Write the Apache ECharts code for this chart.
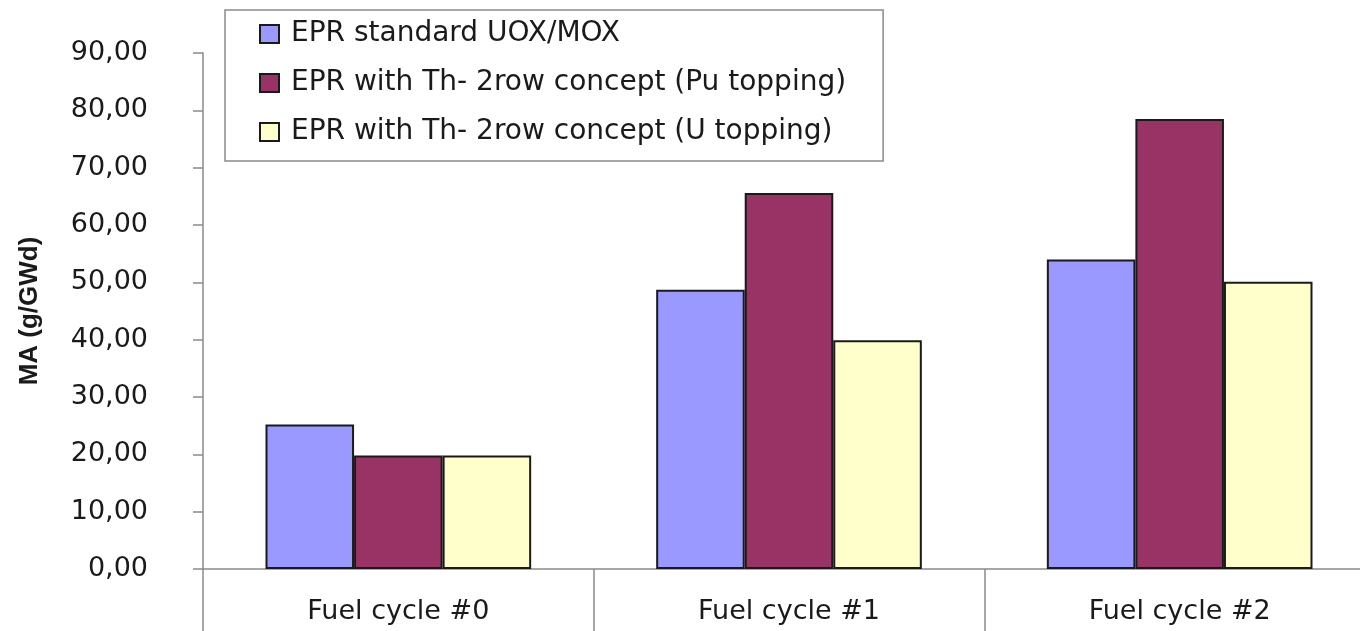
<!DOCTYPE html>
<html>
<head>
<meta charset="utf-8">
<script src="https://cdn.jsdelivr.net/npm/echarts@6/dist/echarts.min.js"></script>
<style>
  html, body { margin: 0; padding: 0; background: #fff; }
  #main { width: 1360px; height: 631px; }
</style>
</head>
<body>
<div id="main"></div>
<script>
// 类别与数据
const categories = ['Fuel cycle #0', 'Fuel cycle #1', 'Fuel cycle #2']
const seriesNames = [
  'EPR standard UOX/MOX',
  'EPR with Th- 2row concept (Pu topping)',
  'EPR with Th- 2row concept (U topping)'
]
const standardData = [25.2, 48.7, 54.0]
const puToppingData = [19.8, 65.6, 78.5]
const uToppingData = [19.8, 39.9, 50.1]
const yTickLabels = ['0,00', '10,00', '20,00', '30,00', '40,00', '50,00', '60,00', '70,00', '80,00', '90,00']

const colors = ['#9999ff', '#993366', '#ffffcc']
const axisGray = '#8a8a8a'
const textColor = '#1a1a1a'
const font = 'DejaVu Sans'

let myChart = echarts.init(document.getElementById('main'))

const barStyle = (c) => ({
  color: c,
  borderColor: '#1a1a1a',
  borderWidth: 2
})

let option = {
  animation: false,
  color: colors,
  legend: {
    orient: 'vertical',
    left: 225,
    top: 10,
    padding: [9, 37, 14, 34],
    itemGap: 19,
    itemWidth: 19,
    itemHeight: 18,
    icon: 'rect',
    borderColor: axisGray,
    borderWidth: 1.5,
    itemStyle: { borderColor: '#1a1a1a', borderWidth: 2 },
    textStyle: {
      fontFamily: font,
      fontSize: 28,
      color: textColor,
      lineHeight: 30,
      padding: [0, 0, 0, 7]
    },
    data: seriesNames
  },
  grid: {
    left: 203,
    width: 1172,
    top: 53,
    bottom: 62,
    outerBoundsMode: 'none' // 允许绘图区超出右边
  },
  xAxis: {
    type: 'category',
    data: categories,
    boundaryGap: true,
    axisLine: { lineStyle: { color: axisGray, width: 1.5 } },
    axisTick: {
      show: true,
      interval: 0,
      length: 70,
      lineStyle: { color: axisGray, width: 1.5 }
    },
    axisLabel: {
      fontFamily: font,
      fontSize: 27,
      color: textColor,
      margin: 29
    }
  },
  yAxis: {
    type: 'value',
    min: 0,
    max: 90,
    interval: 10,
    name: 'MA (g/GWd)',
    nameLocation: 'middle',
    nameGap: 160,
    nameTextStyle: {
      fontFamily: 'Liberation Sans',
      fontWeight: 'bold',
      fontSize: 26,
      color: textColor
    },
    axisLine: { show: true, lineStyle: { color: axisGray, width: 1.5 } },
    axisTick: { show: true, length: 10, lineStyle: { color: axisGray, width: 1.5 } },
    splitLine: { show: false },
    axisLabel: {
      fontFamily: font,
      fontSize: 27,
      color: textColor,
      margin: 55,
      formatter: (v) => yTickLabels[Math.round(v / 10)]
    }
  },
  series: [
    {
      name: seriesNames[0],
      type: 'bar',
      data: standardData,
      barGap: '0%',
      barCategoryGap: '32%',
      itemStyle: barStyle(colors[0])
    },
    {
      name: seriesNames[1],
      type: 'bar',
      data: puToppingData,
      barGap: '0%',
      barCategoryGap: '32%',
      itemStyle: barStyle(colors[1])
    },
    {
      name: seriesNames[2],
      type: 'bar',
      data: uToppingData,
      barGap: '0%',
      barCategoryGap: '32%',
      itemStyle: barStyle(colors[2])
    }
  ]
}

myChart.setOption(option)
window.addEventListener('resize', function () {
  myChart.resize()
})
</script>
</body>
</html>
